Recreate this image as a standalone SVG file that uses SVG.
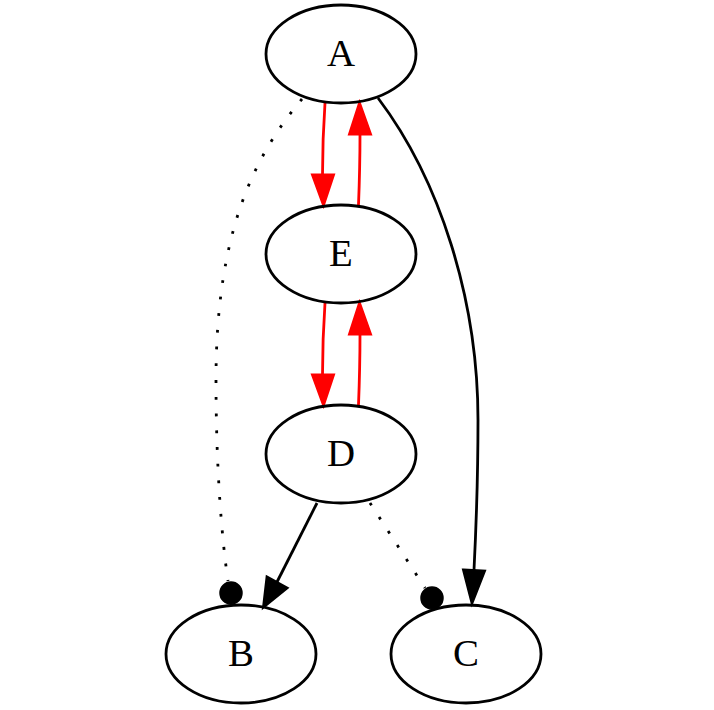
<svg xmlns="http://www.w3.org/2000/svg" width="714" height="710" viewBox="0 0 714 710">
<style>
.node ellipse{fill:none;stroke:#000;stroke-width:2.8}
.node text{font-family:"Liberation Serif","Times New Roman",serif;font-size:38.9px;text-anchor:middle;fill:#000}
.e{fill:none;stroke-width:2.8}
.blk{stroke:#000}
.red{stroke:#ff0000}
.dot{stroke-dasharray:2.8,13.9}
.ahb{fill:#000;stroke:#000;stroke-width:2.8}
.ahr{fill:#ff0000;stroke:#ff0000;stroke-width:2.8}
</style>
<rect width="714" height="710" fill="#fff"/>
<g id="edges">
  <!-- A -> E -->
  <path class="e red" d="M325,103 C323.5,125 322.5,150 322.5,175"/>
  <polygon class="ahr" points="312.5,175 333.5,175 323.5,205"/>
  <!-- E -> A -->
  <path class="e red" d="M358.5,205 C359.5,180 360,155 360,134"/>
  <polygon class="ahr" points="349.5,134 370.5,134 359.5,103"/>
  <!-- E -> D -->
  <path class="e red" d="M325,303 C323.5,325 322.5,350 322.5,375"/>
  <polygon class="ahr" points="312.5,375 333.5,375 323.5,405"/>
  <!-- D -> E -->
  <path class="e red" d="M358.5,405 C359.5,380 360,355 360,334"/>
  <polygon class="ahr" points="349.5,334 370.5,334 359.5,303"/>
  <!-- A -> C -->
  <path class="e blk" d="M378,98 C440,180 478,300 478,420 C478,480 476,530 474,570"/>
  <polygon class="ahb" points="463.5,570 484.5,571 472,603"/>
  <!-- A -> B dotted -->
  <path class="e blk dot" d="M302,99 C255,155 216,230 216,380 C216,470 222,540 228,581"/>
  <circle cx="231" cy="593" r="11" fill="#000" stroke="#000" stroke-width="1.5"/>
  <!-- D -> B -->
  <path class="e blk" d="M317,503 L277,582"/>
  <polygon class="ahb" points="267,577 287,588 263.5,607"/>
  <!-- D -> C dotted -->
  <path class="e blk dot" d="M370,503 L425,588"/>
  <circle cx="432" cy="598" r="11" fill="#000" stroke="#000" stroke-width="1.5"/>
</g>
<g id="A" class="node"><ellipse cx="341" cy="54" rx="75" ry="49"/><text x="341" y="66">A</text></g>
<g id="E" class="node"><ellipse cx="341" cy="254" rx="75" ry="49"/><text x="341" y="266">E</text></g>
<g id="D" class="node"><ellipse cx="341" cy="454" rx="75" ry="49"/><text x="341" y="466">D</text></g>
<g id="B" class="node"><ellipse cx="241" cy="654" rx="75" ry="49"/><text x="241" y="666">B</text></g>
<g id="C" class="node"><ellipse cx="466" cy="654" rx="75" ry="49"/><text x="466" y="666">C</text></g>
</svg>
